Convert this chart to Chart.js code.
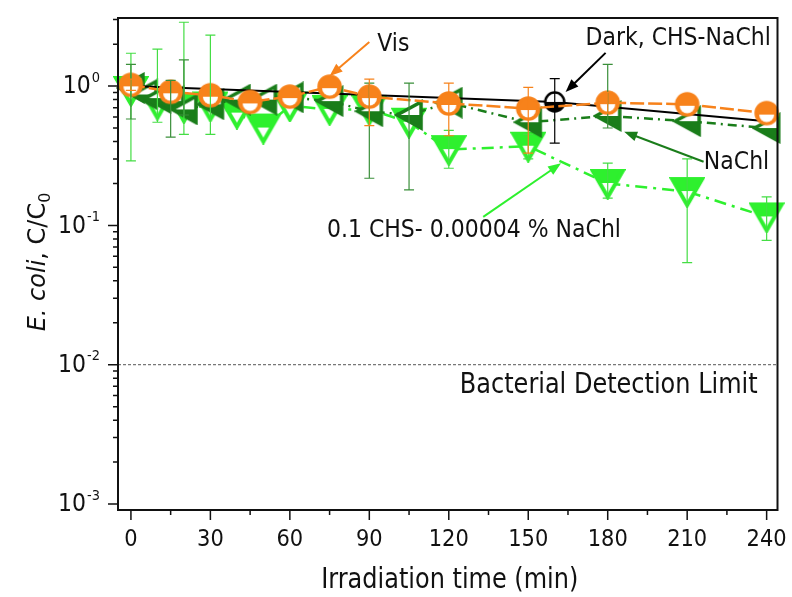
<!DOCTYPE html>
<html>
<head>
<meta charset="utf-8">
<script src="https://cdn.jsdelivr.net/npm/chart.js@4.4.0/dist/chart.umd.min.js"></script>
<style>
  html, body { margin: 0; padding: 0; background: #fff; }
</style>
</head>
<body>
<canvas id="chart" width="792" height="597"></canvas>
<script>
// values (time in min, C/C0)
const visTime = [0, 15, 30, 45, 60, 75, 90, 120, 150, 180, 210, 240];
const visVal = [1.02, 0.91, 0.86, 0.77, 0.84, 0.99, 0.84, 0.75, 0.69, 0.76, 0.74, 0.64];
const visErrLo = [0.93, null, null, null, null, null, 0.52, 0.44, 0.33, 0.64, null, null];
const visErrHi = [1.12, null, null, null, null, null, 1.12, 1.05, 0.98, 0.90, null, null];

const darkTime = [0, 160, 240];
const darkVal = [1.0, 0.77, 0.56];
const darkMarker = [false, true, false];
const darkErrLo = [null, 0.39, null];
const darkErrHi = [null, 1.13, null];

const nachlTime = [0, 5, 10, 15, 20, 30, 40, 50, 60, 75, 90, 105, 120, 150, 180, 210, 240];
const nachlVal = [0.97, 0.87, 0.82, 0.78, 0.68, 0.74, 0.80, 0.80, 0.83, 0.78, 0.66, 0.62, 0.76, 0.55, 0.61, 0.56, 0.50];
const nachlErrLo = [0.58, null, null, 0.43, 0.62, null, null, null, null, null, 0.218, 0.18, null, null, 0.50, null, null];
const nachlErrHi = [1.43, null, null, 1.10, 1.54, null, null, null, null, null, 1.05, 1.05, null, null, 1.43, null, null];

const mixTime = [0, 10, 20, 30, 40, 50, 60, 75, 90, 105, 120, 150, 180, 210, 240];
const mixVal = [0.93, 0.74, 0.70, 0.72, 0.64, 0.50, 0.72, 0.68, 0.68, 0.55, 0.35, 0.37, 0.20, 0.175, 0.115];
const mixErrLo = [0.29, 0.55, 0.45, 0.45, null, null, null, null, null, null, 0.257, 0.30, 0.157, 0.054, 0.078];
const mixErrHi = [1.72, 1.84, 2.87, 2.32, null, null, null, null, null, null, 0.48, 0.45, 0.28, 0.30, 0.16];

const xTicks = [0, 30, 60, 90, 120, 150, 180, 210, 240];
const xMinorTicks = [15, 45, 75, 105, 135, 165, 195, 225];
const yTicks = [0.001, 0.01, 0.1, 1];
const detectionLimit = 0.01;

// annotation anchors in data units
const notes = [
  { text: 'Vis', t: 93, v: 1.97, color: '#f7821b', from: [90, 2.07], to: [75, 1.18] },
  { text: 'Dark, CHS-NaChl', t: 171.6, v: 2.18, color: '#000', from: [179.2, 1.73], to: [164.1, 0.906] },
  { text: 'NaChl', t: 216.3, v: 0.28, color: '#1a7d1a', from: [216.2, 0.286], to: [186.2, 0.47] },
  { text: '0.1 CHS- 0.00004 % NaChl', t: 74, v: 0.0909, color: '#2ef02e', from: [133, 0.115], to: [162.4, 0.279] }
];

const ORANGE = '#f7821b';
const DKGREEN = '#1a7d1a';
const LTGREEN = '#2ef02e';
const FONT = '"DejaVu Sans", sans-serif';

function pts(times, vals) {
  return times.map((t, i) => ({ x: t, y: vals[i] }));
}

// marker sprites
function halfCircle(color, r, lw, inner, fillTop) {
  const size = Math.ceil(2 * r + lw + 2);
  const c = document.createElement('canvas');
  c.width = c.height = size;
  const g = c.getContext('2d');
  const m = size / 2;
  g.beginPath(); g.arc(m, m, r, 0, Math.PI * 2);
  g.fillStyle = fillTop ? color : '#fff'; g.fill();
  g.beginPath();
  if (fillTop) {
    g.arc(m, m + 1.5, inner, 0, Math.PI); g.closePath(); g.fillStyle = '#fff';
  } else {
    g.arc(m, m, r, 0, Math.PI); g.closePath(); g.fillStyle = color;
  }
  g.fill();
  g.beginPath(); g.arc(m, m, r, 0, Math.PI * 2);
  g.lineWidth = lw; g.strokeStyle = color; g.stroke();
  return c;
}

function halfTriangle(color, w, h, corners, lw, fillRect) {
  const c = document.createElement('canvas');
  c.width = w; c.height = h;
  const g = c.getContext('2d');
  const path = () => {
    g.beginPath();
    g.moveTo(corners[0][0], corners[0][1]);
    g.lineTo(corners[1][0], corners[1][1]);
    g.lineTo(corners[2][0], corners[2][1]);
    g.closePath();
  };
  path(); g.fillStyle = '#fff'; g.fill();
  g.save();
  g.beginPath(); g.rect(fillRect[0], fillRect[1], fillRect[2], fillRect[3]); g.clip();
  path(); g.fillStyle = color; g.fill();
  g.restore();
  path(); g.lineWidth = lw; g.lineJoin = 'miter'; g.strokeStyle = color; g.stroke();
  return c;
}

const visMarker = halfCircle(ORANGE, 11, 2.5, 7.5, true);
const darkMarkerImg = halfCircle('#000', 9.5, 2.5, 0, false);
const mixMarker = halfTriangle(LTGREEN, 36, 33, [[3, 4], [33, 4], [18, 30]], 4, [0, 0, 36, 16]);
const nachlMarker = halfTriangle(DKGREEN, 30, 32, [[3, 16], [27, 3], [27, 29]], 3.5, [0, 16, 30, 16]);

function errorBars(ctx, xs, ys, times, lo, hi, color, lw) {
  ctx.save();
  ctx.strokeStyle = color;
  ctx.lineWidth = lw;
  times.forEach((t, i) => {
    if (lo[i] == null || hi[i] == null) return;
    const px = xs.getPixelForValue(t);
    const y1 = ys.getPixelForValue(lo[i]);
    const y2 = ys.getPixelForValue(hi[i]);
    ctx.beginPath();
    ctx.moveTo(px, y1); ctx.lineTo(px, y2);
    ctx.moveTo(px - 5, y1); ctx.lineTo(px + 5, y1);
    ctx.moveTo(px - 5, y2); ctx.lineTo(px + 5, y2);
    ctx.stroke();
  });
  ctx.restore();
}

function arrow(ctx, x1, y1, x2, y2, color) {
  const a = Math.atan2(y2 - y1, x2 - x1);
  ctx.save();
  ctx.strokeStyle = color; ctx.fillStyle = color; ctx.lineWidth = 2;
  ctx.beginPath();
  ctx.moveTo(x1, y1);
  ctx.lineTo(x2 - 10 * Math.cos(a), y2 - 10 * Math.sin(a));
  ctx.stroke();
  ctx.beginPath();
  ctx.moveTo(x2, y2);
  ctx.lineTo(x2 - 13 * Math.cos(a) + 5 * Math.sin(a), y2 - 13 * Math.sin(a) - 5 * Math.cos(a));
  ctx.lineTo(x2 - 13 * Math.cos(a) - 5 * Math.sin(a), y2 - 13 * Math.sin(a) + 5 * Math.cos(a));
  ctx.closePath();
  ctx.fill();
  ctx.restore();
}

// text a little taller than wide, as in the source figure
function tallText(ctx, s, x, y, k) {
  ctx.save();
  ctx.translate(x, y);
  ctx.scale(1, k);
  ctx.fillText(s, 0, 0);
  ctx.restore();
}

const decor = {
  id: 'decor',
  beforeDatasetsDraw(chart) {
    const { ctx, chartArea: a } = chart;
    const ys = chart.scales.y;
    const py = ys.getPixelForValue(detectionLimit);
    ctx.save();
    ctx.strokeStyle = '#555';
    ctx.lineWidth = 1;
    ctx.setLineDash([3, 2]);
    ctx.beginPath();
    ctx.moveTo(a.left, py); ctx.lineTo(a.right, py);
    ctx.stroke();
    ctx.restore();
  },
  afterDatasetsDraw(chart) {
    const { ctx } = chart;
    const xs = chart.scales.x, ys = chart.scales.y;
    errorBars(ctx, xs, ys, mixTime, mixErrLo, mixErrHi, '#44dd44', 1.2);
    errorBars(ctx, xs, ys, nachlTime, nachlErrLo, nachlErrHi, '#3a8f3a', 1.2);
    errorBars(ctx, xs, ys, darkTime, darkErrLo, darkErrHi, '#000', 1.2);
    errorBars(ctx, xs, ys, visTime, visErrLo, visErrHi, ORANGE, 1.2);

    notes.forEach(n => {
      arrow(ctx, xs.getPixelForValue(n.from[0]), ys.getPixelForValue(n.from[1]),
        xs.getPixelForValue(n.to[0]), ys.getPixelForValue(n.to[1]), n.color);
      ctx.save();
      ctx.fillStyle = '#111';
      ctx.font = '22px ' + FONT;
      ctx.textAlign = 'left';
      ctx.textBaseline = 'middle';
      tallText(ctx, n.text, xs.getPixelForValue(n.t), ys.getPixelForValue(n.v), 1.1);
      ctx.restore();
    });

    ctx.save();
    ctx.fillStyle = '#111';
    ctx.font = '24px ' + FONT;
    ctx.textAlign = 'right';
    ctx.textBaseline = 'middle';
    tallText(ctx, 'Bacterial Detection Limit', xs.getPixelForValue(236.6), ys.getPixelForValue(0.00702), 1.15);
    ctx.restore();
  },
  afterDraw(chart) {
    const { ctx, chartArea: a } = chart;
    const xs = chart.scales.x, ys = chart.scales.y;
    ctx.save();
    ctx.strokeStyle = '#111';
    ctx.lineWidth = 2;
    ctx.strokeRect(a.left, a.top, a.right - a.left, a.bottom - a.top);

    // x ticks
    ctx.lineWidth = 1.5;
    ctx.beginPath();
    xTicks.forEach(t => { const p = xs.getPixelForValue(t); ctx.moveTo(p, a.bottom); ctx.lineTo(p, a.bottom + 10); });
    xMinorTicks.forEach(t => { const p = xs.getPixelForValue(t); ctx.moveTo(p, a.bottom); ctx.lineTo(p, a.bottom + 5); });
    // y ticks
    yTicks.forEach(v => { const p = ys.getPixelForValue(v); ctx.moveTo(a.left, p); ctx.lineTo(a.left - 10, p); });
    yTicks.forEach(v => {
      for (let k = 2; k <= 9; k++) {
        const m = v * k;
        if (m > ys.max) break;
        const p = ys.getPixelForValue(m);
        ctx.moveTo(a.left, p); ctx.lineTo(a.left - 5, p);
      }
    });
    ctx.stroke();

    ctx.fillStyle = '#111';
    ctx.textBaseline = 'middle';
    ctx.textAlign = 'center';
    ctx.font = '21px ' + FONT;
    xTicks.forEach(t => tallText(ctx, String(t), xs.getPixelForValue(t), a.bottom + 30, 1.12));

    yTicks.forEach(v => {
      const p = ys.getPixelForValue(v);
      const sup = String(Math.round(Math.log10(v)));
      ctx.textAlign = 'right';
      ctx.font = '13px ' + FONT;
      const w = ctx.measureText(sup).width;
      tallText(ctx, sup, a.left - 18, p - 8, 1.1);
      ctx.font = '22px ' + FONT;
      tallText(ctx, '10', a.left - 19 - w, p + 1, 1.12);
    });

    // axis titles
    ctx.textAlign = 'center';
    ctx.font = '24px ' + FONT;
    tallText(ctx, 'Irradiation time (min)', (a.left + a.right) / 2 + 2, 581, 1.15);

    ctx.translate(39, 262);
    ctx.rotate(-Math.PI / 2);
    const parts = [
      { s: 'E. coli', f: 'italic 24px ' + FONT, dy: 0 },
      { s: ', C/C', f: '24px ' + FONT, dy: 0 },
      { s: '0', f: '16px ' + FONT, dy: 7 }
    ];
    let total = 0;
    parts.forEach(p => { ctx.font = p.f; p.w = ctx.measureText(p.s).width; total += p.w; });
    let x = -total / 2;
    ctx.textAlign = 'left';
    parts.forEach(p => { ctx.font = p.f; ctx.fillText(p.s, x, p.dy); x += p.w; });
    ctx.restore();
  }
};

new Chart(document.getElementById('chart'), {
  type: 'line',
  data: {
    datasets: [
      {
        label: 'Vis',
        data: pts(visTime, visVal),
        borderColor: ORANGE,
        borderWidth: 2.5,
        borderDash: [14, 4],
        pointStyle: visMarker,
        pointRadius: 11,
        clip: false
      },
      {
        label: 'Dark, CHS-NaChl',
        data: pts(darkTime, darkVal),
        borderColor: '#000',
        borderWidth: 2,
        pointStyle: darkMarkerImg,
        pointRadius: c => (darkMarker[c.dataIndex] ? 10 : 0),
        clip: false
      },
      {
        label: 'NaChl',
        data: pts(nachlTime, nachlVal),
        borderColor: DKGREEN,
        borderWidth: 2.5,
        borderDash: [9, 5, 2, 5],
        pointStyle: nachlMarker,
        pointRadius: 12,
        clip: false
      },
      {
        label: '0.1 CHS- 0.00004 % NaChl',
        data: pts(mixTime, mixVal),
        borderColor: LTGREEN,
        borderWidth: 2.5,
        borderDash: [12, 6, 3, 6],
        pointStyle: mixMarker,
        pointRadius: 12,
        clip: false
      }
    ]
  },
  options: {
    responsive: false,
    animation: false,
    layout: { padding: { left: 0, right: 11, top: 18, bottom: 0 } },
    plugins: { legend: { display: false }, tooltip: { enabled: false } },
    scales: {
      x: {
        type: 'linear', min: -4.88, max: 244.1,
        ticks: { display: false }, grid: { display: false }, border: { display: false },
        afterFit: s => { s.height = 87; }
      },
      y: {
        type: 'logarithmic', min: 0.000906, max: 3.08,
        ticks: { display: false }, grid: { display: false }, border: { display: false },
        afterFit: s => { s.width = 118; }
      }
    }
  },
  plugins: [decor]
});
</script>
</body>
</html>
